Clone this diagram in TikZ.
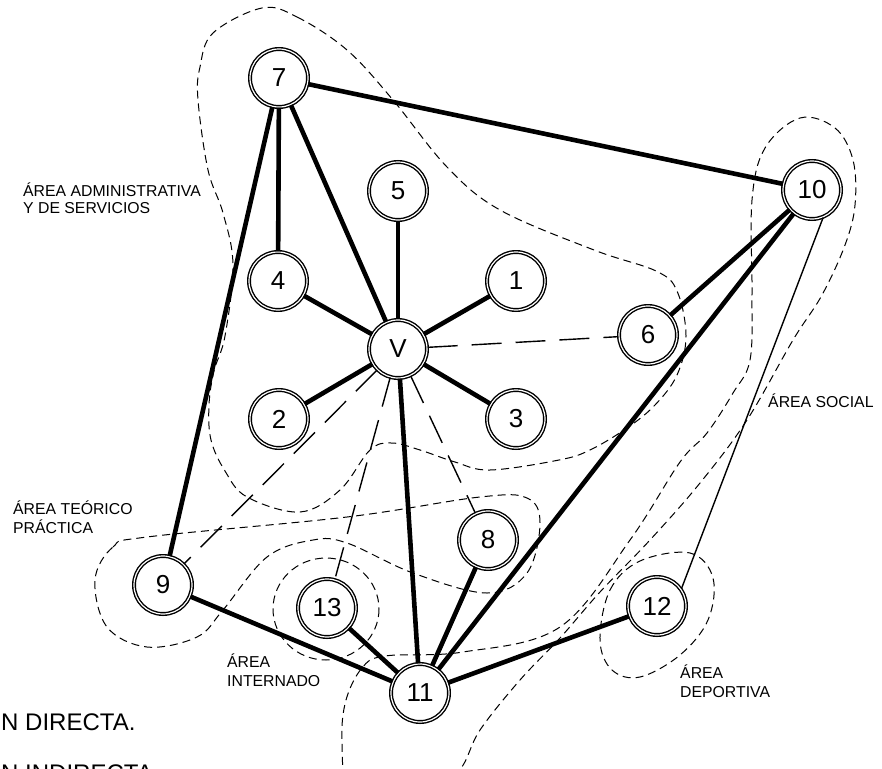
\documentclass[tikz,border=0pt]{standalone}
\usepackage{fontspec}
\setmainfont{Liberation Sans}
\begin{document}
\begin{tikzpicture}[x=1pt,y=-1pt,
  vtx/.style={circle,draw,double,line width=1.4pt,double distance=1.2pt,fill=white,minimum size=58pt,inner sep=0pt,font=\fontsize{26}{30}\selectfont},
  strong/.style={line width=4.6pt},
  weak/.style={line width=1.4pt},
  indirect/.style={line width=1.4pt,dash pattern=on 30pt off 14pt},
  area/.style={line width=1pt,dash pattern=on 8pt off 5pt},
  lbl/.style={anchor=base west,inner sep=0pt,font=\fontsize{15.8}{17}\selectfont},
  big/.style={anchor=base west,inner sep=0pt,font=\fontsize{24}{28}\selectfont}]
\useasboundingbox (0,0) rectangle (882,768);
\clip (0,0) rectangle (882,768);

% areas
\draw[area] plot[smooth cycle, tension=0.6] coordinates {
 (262,8) (297,17) (347,50) (393,100) (447,167) (500,210) (594,250) (656,271)
 (677,291) (686,336) (677,375) (655,405) (627,428) (590,450) (559,460) (490,470)
 (455,462) (420,450) (392,443) (370,450) (340,490) (300,512) (247,497) (225,471)
 (211,440) (209,405) (214,371) (225,336) (233,265) (223,213) (208,170) (198,100)
 (200,67) (213,33)};
\draw[area] plot[smooth cycle, tension=0.6] coordinates {
 (95,580) (113,547) (147,537) (347,517) (480,497) (527,498) (540,523) (527,573)
 (487,593) (413,573) (347,543) (313,540) (267,557) (223,610) (197,637) (147,647)
 (107,627)};
\draw[area] (326,609) ellipse [x radius=53, y radius=51];
\draw[area] plot[smooth cycle, tension=0.6] coordinates {
 (600,640) (610,590) (640,561) (690,553) (713,578) (708,620) (680,655) (640,677)
 (612,670)};
\draw[area] plot[smooth cycle, tension=0.6] coordinates {
 (800,118) (835,128) (853,160) (855,205) (845,245) (822,295) (793,340) (747,420)
 (700,483) (650,540) (600,592) (560,638) (520,680) (480,730) (455,775) (400,800)
 (350,785) (342,740) (346,700) (362,668) (385,656) (463,652) (560,627) (630,540)
 (680,462) (707,433) (733,393) (750,360) (752,293) (752,200) (765,148)};

% vertices
\node[vtx] (n7) at (279,78) {7};
\node[vtx] (n5) at (398,191) {5};
\node[vtx] (n4) at (278,281) {4};
\node[vtx] (n1) at (516,281) {1};
\node[vtx] (nV) at (398,349) {V};
\node[vtx] (n6) at (648,335) {6};
\node[vtx] (n2) at (279,419) {2};
\node[vtx] (n3) at (516,419) {3};
\node[vtx] (n10) at (812,190) {10};
\node[vtx] (n8) at (488,540) {8};
\node[vtx] (n9) at (163,585) {9};
\node[vtx] (n13) at (327,608) {13};
\node[vtx] (n11) at (420,693) {11};
\node[vtx] (n12) at (657,606) {12};

% direct relations
\draw[strong] (n7) -- (n4);
\draw[strong] (n7) -- (nV);
\draw[strong] (n7) -- (n9);
\draw[strong] (n7) -- (n10);
\draw[strong] (n5) -- (nV);
\draw[strong] (n4) -- (nV);
\draw[strong] (n1) -- (nV);
\draw[strong] (n2) -- (nV);
\draw[strong] (n3) -- (nV);
\draw[strong] (nV) -- (n11);
\draw[strong] (n10) -- (n6);
\draw[strong] (n10) -- (n11);
\draw[strong] (n8) -- (n11);
\draw[strong] (n13) -- (n11);
\draw[strong] (n9) -- (n11);
\draw[strong] (n12) -- (n11);
\draw[weak] (n10.-68) -- (n12.35);

% indirect relations
\draw[indirect] (nV) -- (n6);
\draw[indirect] (nV) -- (n9);
\draw[indirect] (nV) -- (n13);
\draw[indirect] (nV) -- (n8);

% labels
\node[lbl] (la1) at (23,196) {ÁREA ADMINISTRATIVA};
\node[lbl] (la2) at (23,213) {Y DE SERVICIOS};
\node[lbl] (lb1) at (13,514) {ÁREA TEÓRICO};
\node[lbl] (lb2) at (13,533) {PRÁCTICA};
\node[lbl] (lc1) at (227,667) {ÁREA};
\node[lbl] (lc2) at (227,686) {INTERNADO};
\node[lbl] (ld1) at (680,678) {ÁREA};
\node[lbl] (ld2) at (680,697) {DEPORTIVA};
\node[lbl] (le1) at (768,407) {ÁREA SOCIAL};
\node[big] (lk1) at (1,730) {N DIRECTA.};
\node[big] (lk2) at (1,781) {N INDIRECTA};
\end{tikzpicture}
\end{document}
